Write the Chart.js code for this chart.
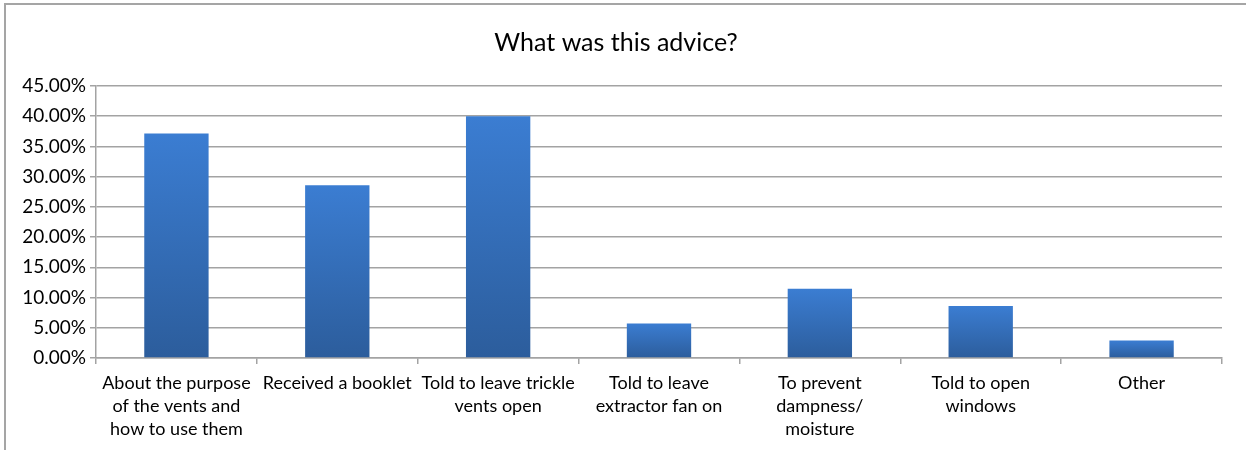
<!DOCTYPE html>
<html lang="en">
<head>
    <meta charset="UTF-8">
    <title>What was this advice?</title>
    <script src="https://cdn.jsdelivr.net/npm/chart.js"></script>
    <style>
        body { margin: 0; background: #fff; }
        .wrap { position: relative; width: 1246px; height: 450px; overflow: hidden; }
        .frame {
            position: absolute; left: 4px; top: 3px; width: 1260px; height: 470px;
            border: 2px solid #a5a5a5; pointer-events: none;
        }
    </style>
</head>
<body>
    <div class="wrap">
        <canvas id="adviceChart" width="1246" height="450"></canvas>
        <div class="frame"></div>
    </div>
    <script>
        const categories = [
            ['About the purpose', 'of the vents and', 'how to use them'],
            'Received a booklet',
            ['Told to leave trickle', 'vents open'],
            ['Told to leave', 'extractor fan on'],
            ['To prevent', 'dampness/', 'moisture'],
            ['Told to open', 'windows'],
            'Other'
        ];
        const percentages = [37.14, 28.57, 40.00, 5.71, 11.43, 8.57, 2.86];
        const yTicks = [0, 5, 10, 15, 20, 25, 30, 35, 40, 45];

        const fontFamily = 'Lato, "Open Sans", sans-serif';
        const gridColor = '#a3a3a3';

        function barGradient(context) {
            const chart = context.chart;
            const y = chart.scales.y;
            if (!chart.chartArea || !y) return '#3570b8';
            const top = y.getPixelForValue(context.raw);
            const bottom = y.getPixelForValue(0);
            const g = chart.ctx.createLinearGradient(0, top, 0, bottom);
            g.addColorStop(0, '#3b7dd2');
            g.addColorStop(1, '#2c5d9c');
            return g;
        }

        new Chart(document.getElementById('adviceChart'), {
            type: 'bar',
            data: {
                labels: categories,
                datasets: [{
                    data: percentages,
                    backgroundColor: barGradient,
                    borderWidth: 0,
                    categoryPercentage: 1.0,
                    barPercentage: 0.4
                }]
            },
            options: {
                responsive: false,
                animation: false,
                layout: { padding: { left: 10, right: 24, top: 14, bottom: 1 } },
                plugins: {
                    legend: { display: false },
                    tooltip: { enabled: false },
                    title: {
                        display: true,
                        text: 'What was this advice?',
                        color: '#000',
                        font: { family: fontFamily, size: 25, weight: 'normal', lineHeight: 1.2 },
                        padding: { top: 14, bottom: 28 }
                    }
                },
                scales: {
                    x: {
                        grid: {
                            display: true,
                            drawOnChartArea: false,
                            drawTicks: true,
                            tickLength: 6,
                            color: gridColor,
                            lineWidth: 1.5,
                            offset: true
                        },
                        border: { color: gridColor, width: 1.5 },
                        ticks: {
                            color: '#000',
                            font: { family: fontFamily, size: 18, lineHeight: 1.28 },
                            maxRotation: 0,
                            minRotation: 0,
                            autoSkip: false,
                            padding: 8
                        }
                    },
                    y: {
                        min: 0,
                        max: 45,
                        afterBuildTicks: axis => { axis.ticks = yTicks.map(v => ({ value: v })); },
                        afterFit: axis => { axis.width = 86; },
                        grid: {
                            color: gridColor,
                            lineWidth: 1.5,
                            tickLength: 6
                        },
                        border: { color: gridColor, width: 1.5 },
                        ticks: {
                            color: '#000',
                            font: { family: fontFamily, size: 19 },
                            padding: 4,
                            callback: v => v.toFixed(2) + '%'
                        }
                    }
                }
            }
        });
    </script>
</body>
</html>
